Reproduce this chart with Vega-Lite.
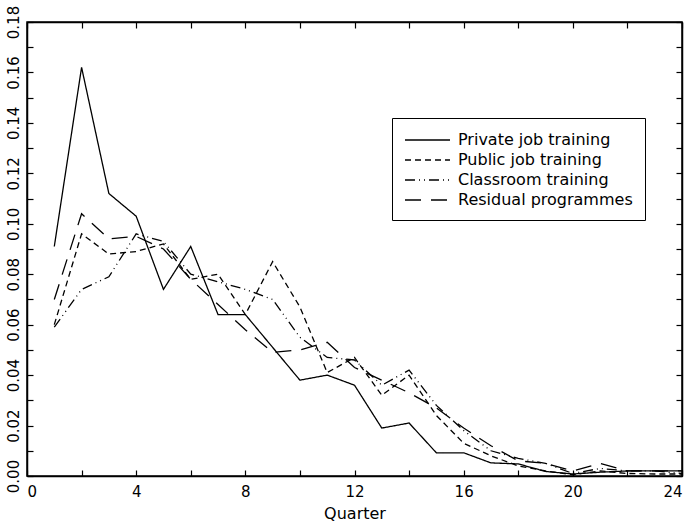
{
  "$schema": "https://vega.github.io/schema/vega-lite/v6.json",
  "autosize": {"type": "none"},
  "width": 655,
  "height": 454,
  "padding": {"left": 27, "top": 22, "right": 9, "bottom": 54},
  "background": "white",
  "config": {
    "font": "DejaVu Sans",
    "view": {"stroke": "black", "strokeWidth": 1.5},
    "axis": {
      "grid": false,
      "domainColor": "black",
      "domainWidth": 1.5,
      "tickColor": "black",
      "tickWidth": 1.2,
      "tickSize": -6,
      "labelColor": "black",
      "labelFontSize": 15,
      "labelFont": "DejaVu Sans",
      "titleColor": "black",
      "titleFont": "DejaVu Sans",
      "titleFontSize": 16,
      "titleFontWeight": "normal"
    }
  },
  "datasets": {
    "shares": [
      {"quarter": 1, "programme": "Private job training", "share": 0.091},
      {"quarter": 2, "programme": "Private job training", "share": 0.162},
      {"quarter": 3, "programme": "Private job training", "share": 0.112},
      {"quarter": 4, "programme": "Private job training", "share": 0.103},
      {"quarter": 5, "programme": "Private job training", "share": 0.074},
      {"quarter": 6, "programme": "Private job training", "share": 0.091},
      {"quarter": 7, "programme": "Private job training", "share": 0.064},
      {"quarter": 8, "programme": "Private job training", "share": 0.064},
      {"quarter": 9, "programme": "Private job training", "share": 0.051},
      {"quarter": 10, "programme": "Private job training", "share": 0.038},
      {"quarter": 11, "programme": "Private job training", "share": 0.040},
      {"quarter": 12, "programme": "Private job training", "share": 0.036},
      {"quarter": 13, "programme": "Private job training", "share": 0.019},
      {"quarter": 14, "programme": "Private job training", "share": 0.021},
      {"quarter": 15, "programme": "Private job training", "share": 0.0092},
      {"quarter": 16, "programme": "Private job training", "share": 0.0092},
      {"quarter": 17, "programme": "Private job training", "share": 0.0052},
      {"quarter": 18, "programme": "Private job training", "share": 0.0048},
      {"quarter": 19, "programme": "Private job training", "share": 0.0018},
      {"quarter": 20, "programme": "Private job training", "share": 0.0008},
      {"quarter": 21, "programme": "Private job training", "share": 0.0015},
      {"quarter": 22, "programme": "Private job training", "share": 0.002},
      {"quarter": 23, "programme": "Private job training", "share": 0.002},
      {"quarter": 24, "programme": "Private job training", "share": 0.002},

      {"quarter": 1, "programme": "Public job training", "share": 0.060},
      {"quarter": 2, "programme": "Public job training", "share": 0.096},
      {"quarter": 3, "programme": "Public job training", "share": 0.088},
      {"quarter": 4, "programme": "Public job training", "share": 0.089},
      {"quarter": 5, "programme": "Public job training", "share": 0.092},
      {"quarter": 6, "programme": "Public job training", "share": 0.078},
      {"quarter": 7, "programme": "Public job training", "share": 0.080},
      {"quarter": 8, "programme": "Public job training", "share": 0.064},
      {"quarter": 9, "programme": "Public job training", "share": 0.085},
      {"quarter": 10, "programme": "Public job training", "share": 0.067},
      {"quarter": 11, "programme": "Public job training", "share": 0.041},
      {"quarter": 12, "programme": "Public job training", "share": 0.047},
      {"quarter": 13, "programme": "Public job training", "share": 0.032},
      {"quarter": 14, "programme": "Public job training", "share": 0.040},
      {"quarter": 15, "programme": "Public job training", "share": 0.024},
      {"quarter": 16, "programme": "Public job training", "share": 0.013},
      {"quarter": 17, "programme": "Public job training", "share": 0.008},
      {"quarter": 18, "programme": "Public job training", "share": 0.004},
      {"quarter": 19, "programme": "Public job training", "share": 0.002},
      {"quarter": 20, "programme": "Public job training", "share": 0.0005},
      {"quarter": 21, "programme": "Public job training", "share": 0.002},
      {"quarter": 22, "programme": "Public job training", "share": 0.001},
      {"quarter": 23, "programme": "Public job training", "share": 0.0008},
      {"quarter": 24, "programme": "Public job training", "share": 0.0008},

      {"quarter": 1, "programme": "Classroom training", "share": 0.059},
      {"quarter": 2, "programme": "Classroom training", "share": 0.074},
      {"quarter": 3, "programme": "Classroom training", "share": 0.079},
      {"quarter": 4, "programme": "Classroom training", "share": 0.096},
      {"quarter": 5, "programme": "Classroom training", "share": 0.093},
      {"quarter": 6, "programme": "Classroom training", "share": 0.080},
      {"quarter": 7, "programme": "Classroom training", "share": 0.077},
      {"quarter": 8, "programme": "Classroom training", "share": 0.074},
      {"quarter": 9, "programme": "Classroom training", "share": 0.070},
      {"quarter": 10, "programme": "Classroom training", "share": 0.055},
      {"quarter": 11, "programme": "Classroom training", "share": 0.047},
      {"quarter": 12, "programme": "Classroom training", "share": 0.046},
      {"quarter": 13, "programme": "Classroom training", "share": 0.036},
      {"quarter": 14, "programme": "Classroom training", "share": 0.042},
      {"quarter": 15, "programme": "Classroom training", "share": 0.028},
      {"quarter": 16, "programme": "Classroom training", "share": 0.018},
      {"quarter": 17, "programme": "Classroom training", "share": 0.010},
      {"quarter": 18, "programme": "Classroom training", "share": 0.007},
      {"quarter": 19, "programme": "Classroom training", "share": 0.005},
      {"quarter": 20, "programme": "Classroom training", "share": 0.001},
      {"quarter": 21, "programme": "Classroom training", "share": 0.003},
      {"quarter": 22, "programme": "Classroom training", "share": 0.002},
      {"quarter": 23, "programme": "Classroom training", "share": 0.002},
      {"quarter": 24, "programme": "Classroom training", "share": 0.001},

      {"quarter": 1, "programme": "Residual programmes", "share": 0.070},
      {"quarter": 2, "programme": "Residual programmes", "share": 0.104},
      {"quarter": 3, "programme": "Residual programmes", "share": 0.094},
      {"quarter": 4, "programme": "Residual programmes", "share": 0.095},
      {"quarter": 5, "programme": "Residual programmes", "share": 0.090},
      {"quarter": 6, "programme": "Residual programmes", "share": 0.078},
      {"quarter": 7, "programme": "Residual programmes", "share": 0.068},
      {"quarter": 8, "programme": "Residual programmes", "share": 0.058},
      {"quarter": 9, "programme": "Residual programmes", "share": 0.049},
      {"quarter": 10, "programme": "Residual programmes", "share": 0.050},
      {"quarter": 11, "programme": "Residual programmes", "share": 0.053},
      {"quarter": 12, "programme": "Residual programmes", "share": 0.043},
      {"quarter": 13, "programme": "Residual programmes", "share": 0.038},
      {"quarter": 14, "programme": "Residual programmes", "share": 0.033},
      {"quarter": 15, "programme": "Residual programmes", "share": 0.027},
      {"quarter": 16, "programme": "Residual programmes", "share": 0.019},
      {"quarter": 17, "programme": "Residual programmes", "share": 0.012},
      {"quarter": 18, "programme": "Residual programmes", "share": 0.006},
      {"quarter": 19, "programme": "Residual programmes", "share": 0.005},
      {"quarter": 20, "programme": "Residual programmes", "share": 0.002},
      {"quarter": 21, "programme": "Residual programmes", "share": 0.005},
      {"quarter": 22, "programme": "Residual programmes", "share": 0.002},
      {"quarter": 23, "programme": "Residual programmes", "share": 0.002},
      {"quarter": 24, "programme": "Residual programmes", "share": 0.002}
    ]
  },
  "data": {"name": "shares"},
  "layer": [
    {
      "mark": {"type": "line", "color": "black", "strokeWidth": 1.3},
      "encoding": {
        "x": {
          "field": "quarter", "type": "quantitative",
          "scale": {"domain": [0, 24], "nice": false},
          "axis": {
            "orient": "bottom",
            "title": "Quarter",
            "values": [0, 2, 4, 6, 8, 10, 12, 14, 16, 18, 20, 22, 24],
            "labelExpr": "datum.value % 4 == 0 ? datum.label : ''",
            "labelPadding": 14,
            "titlePadding": 6
          }
        },
        "y": {
          "field": "share", "type": "quantitative",
          "scale": {"domain": [0, 0.18], "nice": false},
          "axis": {
            "orient": "left",
            "title": null,
            "values": [0, 0.01, 0.02, 0.03, 0.04, 0.05, 0.06, 0.07, 0.08, 0.09, 0.10, 0.11, 0.12, 0.13, 0.14, 0.15, 0.16, 0.17, 0.18],
            "labelExpr": "round(datum.value * 100) % 2 == 0 ? format(datum.value, '.2f') : ''",
            "labelAngle": -90,
            "labelAlign": "center",
            "labelBaseline": "bottom",
            "labelPadding": 12
          }
        },
        "strokeDash": {
          "field": "programme", "type": "nominal",
          "scale": {
            "domain": ["Private job training", "Public job training", "Classroom training", "Residual programmes"],
            "range": [[1, 0], [6, 4], [10, 4, 1, 4, 1, 4], [16, 10]]
          },
          "legend": {
            "title": null,
            "orient": "none",
            "legendX": 365,
            "legendY": 96,
            "strokeColor": "black",
            "fillColor": "white",
            "padding": 12,
            "symbolType": "M-1,0H4",
            "symbolSize": 324,
            "symbolStrokeWidth": 1.3,
            "symbolStrokeColor": "black",
            "symbolFillColor": "transparent",
            "labelFont": "DejaVu Sans",
            "labelFontSize": 16,
            "labelColor": "black",
            "labelOffset": 34,
            "labelLimit": 300,
            "rowPadding": 2
          }
        }
      }
    },
    {
      "mark": {"type": "line", "opacity": 0},
      "encoding": {
        "detail": {"field": "programme"},
        "x": {
          "field": "quarter", "type": "quantitative",
          "axis": {
            "orient": "top",
            "title": null,
            "labels": false,
            "values": [0, 2, 4, 6, 8, 10, 12, 14, 16, 18, 20, 22, 24]
          }
        },
        "y": {
          "field": "share", "type": "quantitative",
          "axis": {
            "orient": "right",
            "title": null,
            "labels": false,
            "values": [0, 0.01, 0.02, 0.03, 0.04, 0.05, 0.06, 0.07, 0.08, 0.09, 0.10, 0.11, 0.12, 0.13, 0.14, 0.15, 0.16, 0.17, 0.18]
          }
        }
      }
    }
  ],
  "resolve": {"axis": {"x": "independent", "y": "independent"}}
}
